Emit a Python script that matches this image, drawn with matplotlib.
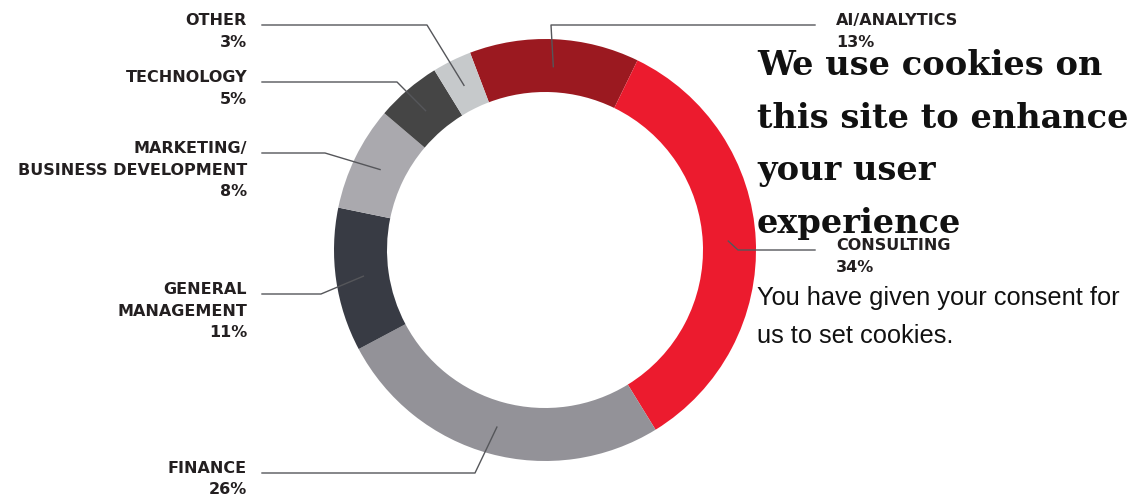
import numpy as np
import matplotlib.pyplot as plt

# shares, clockwise starting at AI/Analytics
labels = ["AI/ANALYTICS", "CONSULTING", "FINANCE", "GENERAL\nMANAGEMENT",
          "MARKETING/\nBUSINESS DEVELOPMENT", "TECHNOLOGY", "OTHER"]
shares = [13, 34, 26, 11, 8, 5, 3]
colors = ["#9b1920", "#ec1b2e", "#939298", "#383b44", "#aaa9ae", "#454545", "#c6c9cb"]

W, H = 1147, 499
CX, CY = 545, H - 250          # donut centre (pixel coords, y up)
R, RW = 211, 53                # outer radius, ring width

# label layout: (side, text x, line y (from top), elbow x)
layout = [
    ("right", 836, 25, 551),
    ("right", 836, 250, 738),
    ("left", 247, 473, 475),
    ("left", 247, 294, 321),
    ("left", 247, 153, 325),
    ("left", 247, 82, 397),
    ("left", 247, 25, 427),
]

fig = plt.figure(figsize=(W / 100, H / 100), dpi=100)
ax = fig.add_axes([0, 0, 1, 1])

wedges, _ = ax.pie(shares, colors=colors, startangle=90 + 20.8, counterclock=False,
                   radius=R, center=(CX, CY),
                   wedgeprops=dict(width=RW, edgecolor="none", linewidth=0))

TXT = "#231f20"
LINE = "#55565a"
LBL = dict(fontsize=11.5, fontweight="bold", color=TXT, family="DejaVu Sans")
for w, lab, share, (side, tx, ly, ex) in zip(wedges, labels, shares, layout):
    mid = np.deg2rad((w.theta1 + w.theta2) / 2)
    ra = R - RW / 2 - 1
    axp, ayp = CX + ra * np.cos(mid), CY + ra * np.sin(mid)
    y = H - ly
    if side == "left":
        ax.plot([262, ex, axp], [y, y, ayp], color=LINE, lw=1, zorder=3)
        ha = "right"
    else:
        ax.plot([815, ex, axp], [y, y, ayp], color=LINE, lw=1, zorder=3)
        ha = "left"
    lines = lab.split("\n") + [f"{share}%"]
    for i, t in enumerate(lines):
        ax.text(tx, y - i * 21.5, t, ha=ha, va="baseline", zorder=4, **LBL)

# cookie banner text overlaid on the screenshot
head = ["We use cookies on", "this site to enhance", "your user", "experience"]
for i, t in enumerate(head):
    ax.text(757, H - 75 - i * 52.7, t, ha="left", va="baseline", fontsize=24.2,
            fontweight="bold", color="#111111", family="DejaVu Serif", zorder=5)
body = ["You have given your consent for", "us to set cookies."]
for i, t in enumerate(body):
    ax.text(757, H - 305 - i * 38, t, ha="left", va="baseline", fontsize=18.3,
            color="#111111", family="Liberation Sans", zorder=5)

ax.set_xlim(0, W)
ax.set_ylim(0, H)
ax.set_aspect("equal")
ax.axis("off")
fig.savefig("out.png", dpi=100, facecolor="white")
